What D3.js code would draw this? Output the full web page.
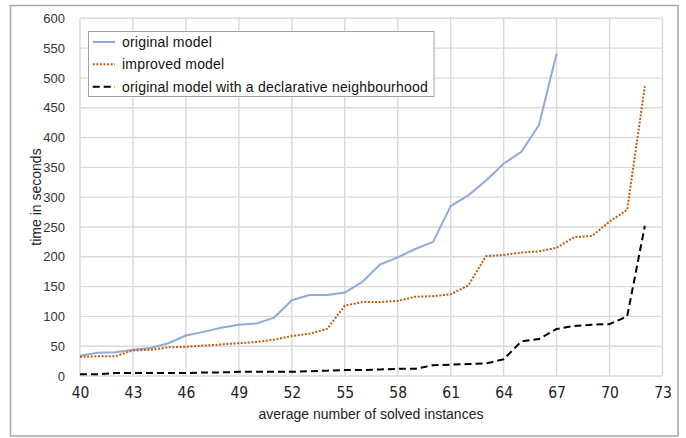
<!DOCTYPE html>
<html>
<head>
<meta charset="utf-8">
<script src="https://cdn.jsdelivr.net/npm/d3@7"></script>
<style>
  html, body { margin: 0; padding: 0; background: #fff; }
  svg { display: block; }
</style>
</head>
<body>
<svg id="chart" width="686" height="438"></svg>
<script>
// ---- data ----
const xOriginal = d3.range(40, 68);          // 40..67
const xOther = d3.range(40, 73);             // 40..72
const originalModel = [34, 39, 40, 44, 47, 55, 68, 74, 81, 86, 88, 98, 127, 136, 136, 140, 158, 187, 199, 213, 225, 285, 303, 328, 356, 376, 421, 541];
const improvedModel = [32, 33, 33, 43, 44, 48, 49, 51, 53, 55, 57, 61, 67, 71, 79, 118, 124, 124, 126, 133, 134, 137, 152, 201, 203, 207, 209, 215, 233, 235, 259, 279, 486];
const declarativeModel = [3, 3, 5, 5, 5, 5, 5, 6, 6, 7, 7, 7, 7, 8, 9, 10, 10, 11, 12, 12, 18, 19, 20, 21, 28, 58, 62, 79, 84, 86, 87, 100, 252];
const xTicks = [40, 43, 46, 49, 52, 55, 58, 61, 64, 67, 70, 73];
const yTicks = [0, 50, 100, 150, 200, 250, 300, 350, 400, 450, 500, 550, 600];
const seriesNames = ["original model", "improved model", "original model with a declarative neighbourhood"];

// ---- layout ----
const svg = d3.select("#chart");
const plot = { left: 80, right: 662.5, top: 18.3, bottom: 376 };
const x = d3.scaleLinear().domain([40, 73]).range([plot.left, plot.right]);
const y = d3.scaleLinear().domain([0, 600]).range([plot.bottom, plot.top]);

const FONT = "'Liberation Sans', Arial, sans-serif";

// background + outer border
svg.append("rect").attr("x", 0).attr("y", 0).attr("width", 686).attr("height", 438).attr("fill", "#fff");
svg.append("rect").attr("x", 10.5).attr("y", 5.5).attr("width", 667.5).attr("height", 430.5)
  .attr("fill", "#fff").attr("stroke", "#a6a6a6").attr("stroke-width", 1.5);

// gridlines
const grid = svg.append("g");
grid.selectAll("line.h").data(yTicks).join("line")
  .attr("x1", plot.left).attr("x2", plot.right)
  .attr("y1", d => y(d)).attr("y2", d => y(d))
  .attr("stroke", "#d9d9d9").attr("stroke-width", 1.4);
grid.selectAll("line.v").data(xTicks).join("line")
  .attr("x1", d => x(d)).attr("x2", d => x(d))
  .attr("y1", plot.top).attr("y2", plot.bottom)
  .attr("stroke", "#d9d9d9").attr("stroke-width", 1.4);

// y axis labels
const yAxis = d3.axisLeft(y).tickValues(yTicks).tickSize(0).tickPadding(0);
const gy = svg.append("g").attr("transform", `translate(${plot.left - 15},0)`).call(yAxis);
gy.select(".domain").remove();
gy.selectAll("text").attr("font-family", FONT).attr("font-size", 13).attr("fill", "#333");

// x axis labels
const xAxis = d3.axisBottom(x).tickValues(xTicks).tickSize(0).tickPadding(0).tickFormat(d3.format("d"));
const gx = svg.append("g").attr("transform", `translate(0,${plot.bottom + 11})`).call(xAxis);
gx.select(".domain").remove();
gx.selectAll("text").attr("font-family", "'Liberation Sans Narrow', 'DejaVu Sans Condensed', sans-serif")
  .attr("font-size", 15.5).attr("fill", "#222");

// axis titles
svg.append("text").attr("x", 371).attr("y", 419)
  .attr("text-anchor", "middle").attr("font-family", FONT).attr("font-size", 14).attr("fill", "#222")
  .text("average number of solved instances");
svg.append("text").attr("transform", "translate(41,197) rotate(-90)")
  .attr("text-anchor", "middle").attr("font-family", FONT).attr("font-size", 14).attr("fill", "#222")
  .text("time in seconds");

// lines
const styles = [
  { color: "#8FAADC", dash: null, width: 2 },
  { color: "#C55A11", dash: "2,1.6", width: 2 },
  { color: "#000000", dash: "7,4", width: 2 }
];
const seriesData = [
  xOriginal.map((v, i) => [v, originalModel[i]]),
  xOther.map((v, i) => [v, improvedModel[i]]),
  xOther.map((v, i) => [v, declarativeModel[i]])
];
const line = d3.line().x(d => x(d[0])).y(d => y(d[1]));
seriesData.forEach((data, i) => {
  svg.append("path").datum(data).attr("d", line)
    .attr("fill", "none").attr("stroke", styles[i].color).attr("stroke-width", styles[i].width)
    .attr("stroke-dasharray", styles[i].dash).attr("stroke-linejoin", "round");
});

// legend
const lg = svg.append("g");
lg.append("rect").attr("x", 88.5).attr("y", 31.5).attr("width", 345.5).attr("height", 65)
  .attr("fill", "#fff").attr("stroke", "#a0a0a0").attr("stroke-width", 1);
const rowY = [42, 64.3, 86.7];
seriesNames.forEach((name, i) => {
  lg.append("line").attr("x1", 92.7).attr("x2", 115).attr("y1", rowY[i]).attr("y2", rowY[i])
    .attr("stroke", styles[i].color).attr("stroke-width", styles[i].width)
    .attr("stroke-dasharray", styles[i].dash);
  lg.append("text").attr("x", 122).attr("y", rowY[i]).attr("dy", "0.35em")
    .attr("font-family", FONT).attr("font-size", 14).attr("letter-spacing", 0.2)
    .attr("fill", "#111").text(name);
});
</script>
</body>
</html>
